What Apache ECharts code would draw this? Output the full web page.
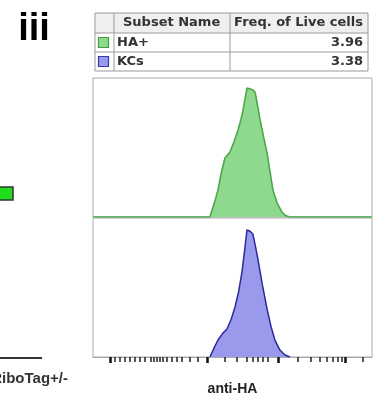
<!DOCTYPE html>
<html>
<head>
<meta charset="utf-8">
<script src="https://cdn.jsdelivr.net/npm/echarts@6/dist/echarts.min.js"></script>
<style>
  html, body { margin: 0; padding: 0; background: #fff; }
  #chart { width: 377px; height: 403px; }
</style>
</head>
<body>
<div id="chart"></div>
<script>
// histogram traces (x in % of the axis width, y in % of panel height)
const xGreen = [0, 41.9, 43.5, 44.8, 46.0, 47.3, 49.1, 50.5, 52.0, 53.0, 53.8, 54.6, 55.2, 55.8, 56.3, 57.2, 58.1, 59.0, 59.9, 61.2, 62.4, 63.5, 64.5, 66.0, 67.7, 69.0, 70.6, 100]
const yGreen = [0, 0, 10, 19.4, 32, 42.4, 46.8, 54, 62.6, 70, 77, 86, 92.8, 91.5, 92.1, 91.5, 89.9, 80, 69.8, 57, 46, 32, 19.4, 10, 3.6, 1, 0, 0]
const xBlue = [41.9, 43.5, 44.8, 46.5, 48.0, 49.5, 50.9, 52.2, 53.4, 54.3, 55.2, 56.3, 57.3, 58.2, 59.1, 60.7, 62.4, 63.8, 65.2, 67.0, 68.8, 70.6]
const yBlue = [0, 7, 12.2, 17, 20.1, 27, 36, 47, 61.2, 76, 91.4, 90.5, 88.5, 80, 70.5, 52, 34.5, 22, 12.2, 5, 1.4, 0]

// tick marks on the anti-HA axis
const majorTicks = [6.1, 40.9, 66.3, 90.3]
const minorTicks = [7.9, 9.7, 11.5, 13.3, 15.1, 16.8, 18.6, 20.8, 21.9, 22.9, 24.0, 25.1, 26.5, 28.3, 30.1, 31.9, 34.8, 37.6,
  47.3, 51.6, 55.2, 57.3, 59.1, 60.9, 62.7, 73.5, 78.1, 81.4, 83.9, 86.0, 87.8, 89.2, 96.8]

// legend table
const tableHeader = ['Subset Name', 'Freq. of Live cells']
const subsetNames = ['HA+', 'KCs']
const subsetFreq = ['3.96', '3.38']
const subsetFill = ['#8fd98f', '#9a9aec']
const subsetEdge = ['#3f9f3f', '#3a3aa8']
const subsetLine = ['#4aa84a', '#2a2a9a']

const chart = echarts.init(document.getElementById('chart'))

function pairs(xs, ys) {
  return xs.map(function(x, i) { return [x, ys[i]] })
}

// table drawn with graphic
const tx = [95, 114, 230, 368]
const ty = [13, 33, 52, 71]
const font = '"DejaVu Sans", sans-serif'
const graphic = []
graphic.push({ type: 'rect', shape: { x: tx[0], y: ty[0], width: tx[3] - tx[0], height: ty[1] - ty[0] },
  style: { fill: '#efefef' } })
for (let c = 0; c < 4; c++) {
  graphic.push({ type: 'line', shape: { x1: tx[c], y1: ty[0], x2: tx[c], y2: ty[3] }, style: { stroke: '#9a9a9a', lineWidth: 1 } })
}
for (let r = 0; r < 4; r++) {
  graphic.push({ type: 'line', shape: { x1: tx[0], y1: ty[r], x2: tx[3], y2: ty[r] }, style: { stroke: '#9a9a9a', lineWidth: 1 } })
}
graphic.push({ type: 'text', x: 123, y: 23, style: { text: tableHeader[0], font: 'bold 13px ' + font, fill: '#333', verticalAlign: 'middle' } })
graphic.push({ type: 'text', x: 363, y: 23, style: { text: tableHeader[1], font: 'bold 13px ' + font, fill: '#333', align: 'right', verticalAlign: 'middle' } })
subsetNames.forEach(function(name, i) {
  const yc = (ty[i + 1] + ty[i + 2]) / 2
  graphic.push({ type: 'rect', shape: { x: 98.5, y: yc - 5, width: 10, height: 10 },
    style: { fill: subsetFill[i], stroke: subsetEdge[i], lineWidth: 1.2 } })
  graphic.push({ type: 'text', x: 117, y: yc, style: { text: name, font: 'bold 13px ' + font, fill: '#333', verticalAlign: 'middle' } })
  graphic.push({ type: 'text', x: 363, y: yc, style: { text: subsetFreq[i], font: 'bold 13px ' + font, fill: '#333', align: 'right', verticalAlign: 'middle' } })
})

// panel label and cut-off neighbouring panel
graphic.push({ type: 'text', x: 34, y: 11, style: { text: 'iii', font: 'bold 38px "Liberation Sans", Arial, sans-serif', fill: '#000', align: 'center', verticalAlign: 'top' } })
graphic.push({ type: 'rect', shape: { x: -3, y: 187, width: 16, height: 13 },
  style: { fill: '#1fdc1f', stroke: '#333', lineWidth: 1.5 } })
graphic.push({ type: 'line', shape: { x1: 0, y1: 358, x2: 42, y2: 358 }, style: { stroke: '#333', lineWidth: 2 } })
graphic.push({ type: 'text', x: 68, y: 379, style: { text: 'RiboTag+/-', font: 'bold 15px "Liberation Sans", Arial, sans-serif', fill: '#333', align: 'right', verticalAlign: 'middle' } })

const option = {
  animation: false,
  backgroundColor: '#fff',
  grid: [
    { left: 93, top: 78, width: 279, height: 139, show: true, borderColor: '#aaa', borderWidth: 1 },
    { left: 93, top: 218, width: 279, height: 139, show: true, borderColor: '#aaa', borderWidth: 1 }
  ],
  xAxis: [
    { gridIndex: 0, type: 'value', min: 0, max: 100, show: false },
    {
      gridIndex: 1, type: 'value', min: 0, max: 100, position: 'bottom',
      splitLine: { show: false },
      axisLabel: { show: false },
      axisLine: { show: true, lineStyle: { color: '#aaa', width: 1 } },
      axisTick: { show: true, customValues: minorTicks, length: 5, lineStyle: { color: '#222', width: 1.5 } }
    },
    {
      gridIndex: 1, type: 'value', min: 0, max: 100, position: 'bottom',
      splitLine: { show: false },
      axisLabel: { show: false },
      axisLine: { show: false },
      axisTick: { show: true, customValues: majorTicks, length: 6, lineStyle: { color: '#111', width: 2.5 } },
      name: 'anti-HA',
      nameLocation: 'middle',
      nameGap: 25,
      nameTextStyle: { fontFamily: '"Liberation Sans", Arial, sans-serif', fontWeight: 'bold', fontSize: 14, color: '#222' }
    }
  ],
  yAxis: [
    { gridIndex: 0, type: 'value', min: 0, max: 100, show: false },
    { gridIndex: 1, type: 'value', min: 0, max: 100, show: false }
  ],
  series: [
    {
      name: subsetNames[0], type: 'line', xAxisIndex: 0, yAxisIndex: 0,
      data: pairs(xGreen, yGreen), showSymbol: false, symbol: 'none',
      lineStyle: { color: subsetLine[0], width: 1.6 },
      areaStyle: { color: subsetFill[0], opacity: 1 }
    },
    {
      name: subsetNames[1], type: 'line', xAxisIndex: 1, yAxisIndex: 1,
      data: pairs(xBlue, yBlue), showSymbol: false, symbol: 'none',
      lineStyle: { color: subsetLine[1], width: 1.5 },
      areaStyle: { color: subsetFill[1], opacity: 1 }
    }
  ],
  graphic: graphic
}
chart.setOption(option)
</script>
</body>
</html>
